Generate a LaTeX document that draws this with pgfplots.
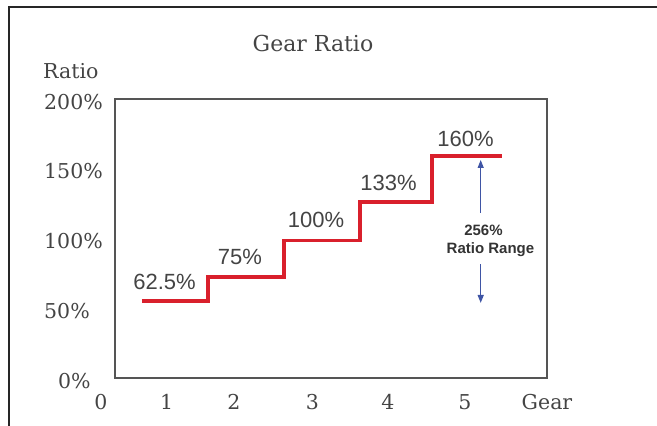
\documentclass[border=0pt]{standalone}
\usepackage{fontspec}
\setmainfont{DejaVu Serif}
\newfontfamily\labelsans{Liberation Sans}
\usepackage{pgfplots}
\pgfplotsset{compat=1.18}
\usetikzlibrary{arrows.meta}
\definecolor{stepred}{HTML}{D9202C}
\definecolor{arrowblue}{HTML}{3F55A5}
\definecolor{txt}{HTML}{444444}
\definecolor{axgray}{HTML}{555555}
\begin{document}
\begin{tikzpicture}[x=1pt,y=1pt]
\path[use as bounding box] (0,0) rectangle (657,-426);
\draw[line width=2pt, color=black!85] (8.5,-430) -- (8.5,-7) -- (660,-7);
\begin{axis}[
  at={(115pt,-378pt)}, anchor=south west,
  scale only axis, width=432pt, height=279pt,
  xmin=115, xmax=547, ymin=0, ymax=200,
  axis line style={axgray, line width=1.3pt},
  xtick={166.7,234,312.5,388,465}, xticklabels={1,2,3,4,5},
  ytick={0,50,100,150,200},
  yticklabels={\hspace*{14pt}0\%,50\%,100\%,150\%,200\%},
  major tick length=0pt,
  tick label style={font=\fontsize{20.5}{24}\selectfont, text=txt, inner sep=0pt},
  xticklabel style={anchor=base, yshift=-31pt},
  yticklabel style={anchor=base west, xshift=-71pt, yshift=-10pt},
  clip=false,
]
\addplot[const plot, stepred, line width=3.5pt, line join=miter, line cap=butt]
  coordinates {(142,55.2) (208,72.4) (284,98.6) (360,126.2) (432,159.1) (502,159.1)};
\node[font=\labelsans\fontsize{22}{24}\selectfont, text=txt] at (axis cs:164.5,69.2) {62.5\%};
\node[font=\labelsans\fontsize{22}{24}\selectfont, text=txt] at (axis cs:240,87.1) {75\%};
\node[font=\labelsans\fontsize{22}{24}\selectfont, text=txt] at (axis cs:316,113.3) {100\%};
\node[font=\labelsans\fontsize{22}{24}\selectfont, text=txt] at (axis cs:388.5,140.1) {133\%};
\node[font=\labelsans\fontsize{22}{24}\selectfont, text=txt] at (axis cs:465.5,171.7) {160\%};
\draw[arrowblue, line width=1.2pt, -{Triangle[length=8pt,width=6pt]}] (axis cs:480.7,118.3) -- (axis cs:480.7,156.3);
\draw[arrowblue, line width=1.2pt, -{Triangle[length=8pt,width=6pt]}] (axis cs:480.7,81.7) -- (axis cs:480.7,53.8);
\node[anchor=base, inner sep=0pt, font=\labelsans\bfseries\fontsize{15}{17}\selectfont, text=black!80] at (axis cs:483.5,102.2) {256\%};
\node[anchor=base, inner sep=0pt, font=\labelsans\bfseries\fontsize{15}{17}\selectfont, text=black!80] at (axis cs:490.5,89.2) {Ratio Range};
\end{axis}
\node[anchor=base, inner sep=0pt, font=\fontsize{22}{26}\selectfont, text=txt] at (313,-51.7) {Gear Ratio};
\node[anchor=base west, inner sep=0pt, font=\fontsize{20.5}{24}\selectfont, text=txt] at (43,-78) {Ratio};
\node[anchor=base, inner sep=0pt, font=\fontsize{20.5}{24}\selectfont, text=txt] at (100.8,-409) {0};
\node[anchor=base, inner sep=0pt, font=\fontsize{20.5}{24}\selectfont, text=txt] at (547,-409) {Gear};
\end{tikzpicture}
\end{document}
